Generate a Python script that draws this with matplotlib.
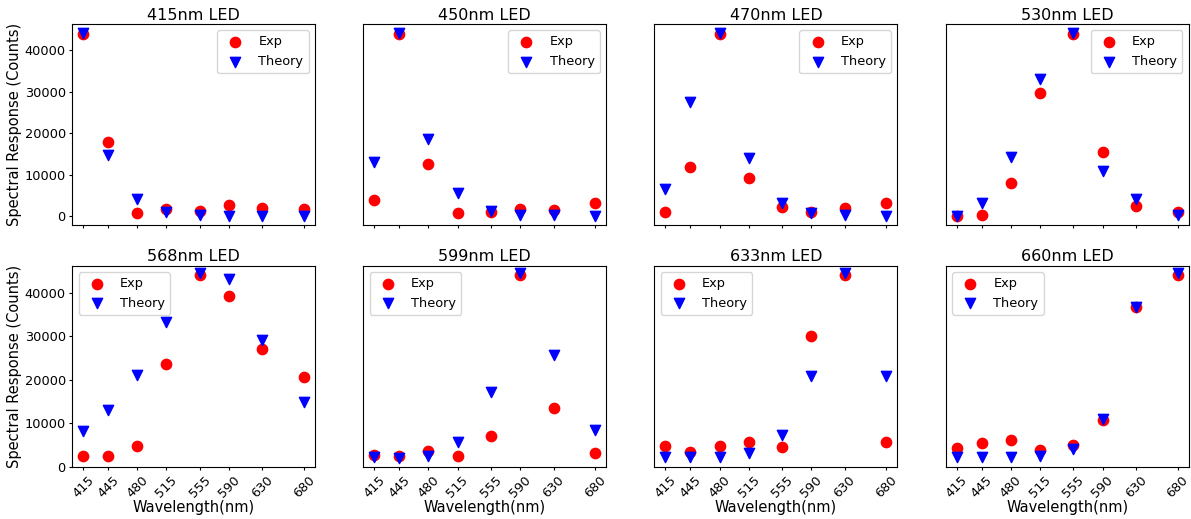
import numpy as np
from matplotlib import pyplot as plt

wavelengths = [415, 445, 480, 515, 555, 590, 630, 680]
led_names = ['415nm LED', '450nm LED', '470nm LED', '530nm LED',
             '568nm LED', '599nm LED', '633nm LED', '660nm LED']

exp_415 = [43850, 18000, 880, 1680, 1360, 2720, 1920, 1680]
exp_450 = [3840, 43850, 12640, 880, 960, 1680, 1440, 3120]
exp_470 = [960, 11840, 43850, 9280, 2160, 1120, 2080, 3120]
exp_530 = [0, 240, 7920, 29700, 43850, 15600, 2480, 1120]
exp_568 = [2600, 2600, 4730, 23650, 44050, 39200, 27100, 20600]
exp_599 = [2820, 2600, 3590, 2600, 7020, 44050, 13500, 3200]
exp_633 = [4730, 3360, 4730, 5730, 4580, 30080, 44050, 5800]
exp_660 = [4350, 5420, 6180, 3970, 4960, 10840, 36640, 44050]

th_415 = [44200, 14800, 4080, 1100, 240, 100, 100, 100]
th_450 = [13200, 44200, 18640, 5600, 1200, 240, 240, 160]
th_470 = [6640, 27680, 44200, 14000, 3280, 800, 320, 160]
th_530 = [160, 3280, 14400, 33100, 44200, 10800, 4080, 400]
th_568 = [8320, 13130, 21150, 33200, 44400, 43130, 29160, 14900]
th_599 = [2290, 2140, 2600, 5650, 17100, 44400, 25730, 8400]
th_633 = [2290, 2290, 2290, 3130, 7330, 20760, 44400, 20760]
th_660 = [2290, 2290, 2290, 2440, 4200, 11000, 36800, 44400]

exp_all = [exp_415, exp_450, exp_470, exp_530, exp_568, exp_599, exp_633, exp_660]
th_all = [th_415, th_450, th_470, th_530, th_568, th_599, th_633, th_660]

fig, axes = plt.subplots(2, 4, figsize=(11.91, 5.19), dpi=100,
                         sharex=True, sharey='row')
fig.subplots_adjust(left=0.0605, right=0.998, top=0.954, bottom=0.100,
                    wspace=0.198, hspace=0.199)

for i, ax in enumerate(axes.flat):
    ax.scatter(wavelengths, exp_all[i], color='red', marker='o', s=55, label='Exp')
    ax.scatter(wavelengths, th_all[i], color='blue', marker='v', s=55, label='Theory')
    ax.set_title(led_names[i], fontsize=11.5, pad=3)
    loc = 'upper right' if i < 4 else 'upper left'
    ax.legend(loc=loc, fontsize=9.3)
    ax.tick_params(labelsize=9.3, length=2.5, pad=2)
    if i >= 4:
        ax.set_xticks(wavelengths)
        ax.set_xticklabels(wavelengths, rotation=45)
        ax.set_xlabel('Wavelength(nm)', fontsize=10.5, labelpad=0)
    if i % 4 == 0:
        ax.set_ylabel('Spectral Response (Counts)', fontsize=10.5, labelpad=2)
    else:
        ax.tick_params(left=False, labelleft=False)

axes[1, 0].set_ylim(-30, 46200)

plt.savefig('out.png', dpi=100)
